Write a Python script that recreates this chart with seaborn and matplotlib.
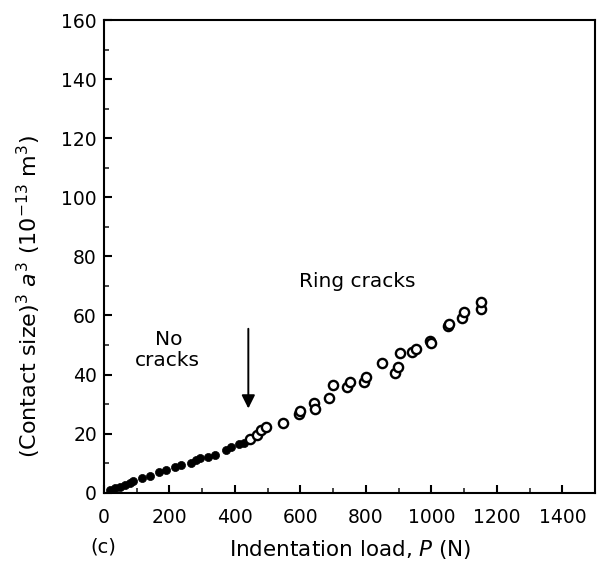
import numpy as np
import pandas as pd
import matplotlib.pyplot as plt
import seaborn as sns
from matplotlib.ticker import MultipleLocator

# Data: load P (N) and a^3 (1e-13 m^3)
no_crack_load = [18, 33, 49, 64, 79, 89, 115, 140, 168, 191, 216, 236, 267, 282,
                 292, 318, 338, 373, 389, 414, 429]
no_crack_a3 = [0.9, 1.5, 1.8, 2.6, 3.4, 4.0, 4.9, 5.7, 6.9, 7.7, 8.6, 9.4, 9.9, 11.1,
               11.6, 12.0, 12.8, 14.5, 15.6, 16.4, 16.9]

ring_crack_load = [445, 468, 480, 495, 546, 597, 599, 642, 645, 688, 700, 743, 751,
                   794, 799, 848, 890, 897, 903, 941, 953, 997, 1000, 1051, 1053,
                   1094, 1099, 1150, 1152]
ring_crack_a3 = [18.2, 19.5, 21.2, 22.3, 23.7, 26.5, 27.5, 30.3, 28.4, 32.2, 36.5,
                 35.8, 37.4, 37.6, 39.2, 43.8, 40.6, 42.4, 47.3, 47.7, 48.6, 51.2,
                 50.6, 56.4, 57.1, 59.2, 61.3, 62.1, 64.7]

df_no = pd.DataFrame({'load': no_crack_load, 'a3': no_crack_a3})
df_ring = pd.DataFrame({'load': ring_crack_load, 'a3': ring_crack_a3})

sns.set_style("ticks")
plt.rcParams['font.family'] = ['DejaVu Sans']
plt.rcParams['mathtext.fontset'] = 'dejavusans'
plt.rcParams['text.color'] = 'black'
plt.rcParams['axes.labelcolor'] = 'black'

fig = plt.figure(figsize=(5.97, 5.63), dpi=100)
ax = fig.add_axes([0.174, 0.125, 0.823, 0.839])

sns.scatterplot(x='load', y='a3', data=df_no, ax=ax, color='black', s=34,
                edgecolor='black', linewidth=0.5, zorder=3)
sns.scatterplot(x='load', y='a3', data=df_ring, ax=ax, facecolor='white', s=44,
                edgecolor='black', linewidth=1.7, zorder=3)

ax.set_xlim(0, 1500)
ax.set_ylim(0, 160)
ax.xaxis.set_minor_locator(MultipleLocator(100))
ax.yaxis.set_major_locator(MultipleLocator(20))
ax.yaxis.set_minor_locator(MultipleLocator(10))
ax.set_xticks(np.arange(0, 1401, 200))
ax.tick_params(which='major', direction='in', length=6, width=1.5, labelsize=13.5,
               top=False, right=False, colors='black')
ax.tick_params(axis='x', which='major', pad=11)
ax.tick_params(axis='y', which='major', pad=5)
ax.tick_params(which='minor', direction='in', length=3.5, width=1.2,
               top=False, right=False)
for sp in ax.spines.values():
    sp.set_linewidth(1.5)
    sp.set_color('black')

ax.set_xlabel(r'Indentation load, $P$ (N)', fontsize=15.5)
ax.xaxis.set_label_coords(0.501, -0.097)
ax.set_ylabel(r'(Contact size)$^3$ $a^3$ (10$^{-13}$ m$^3$)', fontsize=16)
ax.yaxis.set_label_coords(-0.124, 0.416)

fig.text(0.173, 0.028, '(c)', fontsize=14, ha='center', va='center')

ax.text(596, 71.5, 'Ring cracks', fontsize=14.5, ha='left', va='center')
ax.text(198, 51.7, 'No', fontsize=14.5, ha='center', va='center')
ax.text(195, 44.9, 'cracks', fontsize=14.5, ha='center', va='center')
ax.annotate('', xy=(441, 28.5), xytext=(441, 55.5),
            arrowprops=dict(arrowstyle='-|>', color='black', lw=1.4,
                            mutation_scale=20, shrinkA=0, shrinkB=0))

plt.savefig('out.png', dpi=100)
